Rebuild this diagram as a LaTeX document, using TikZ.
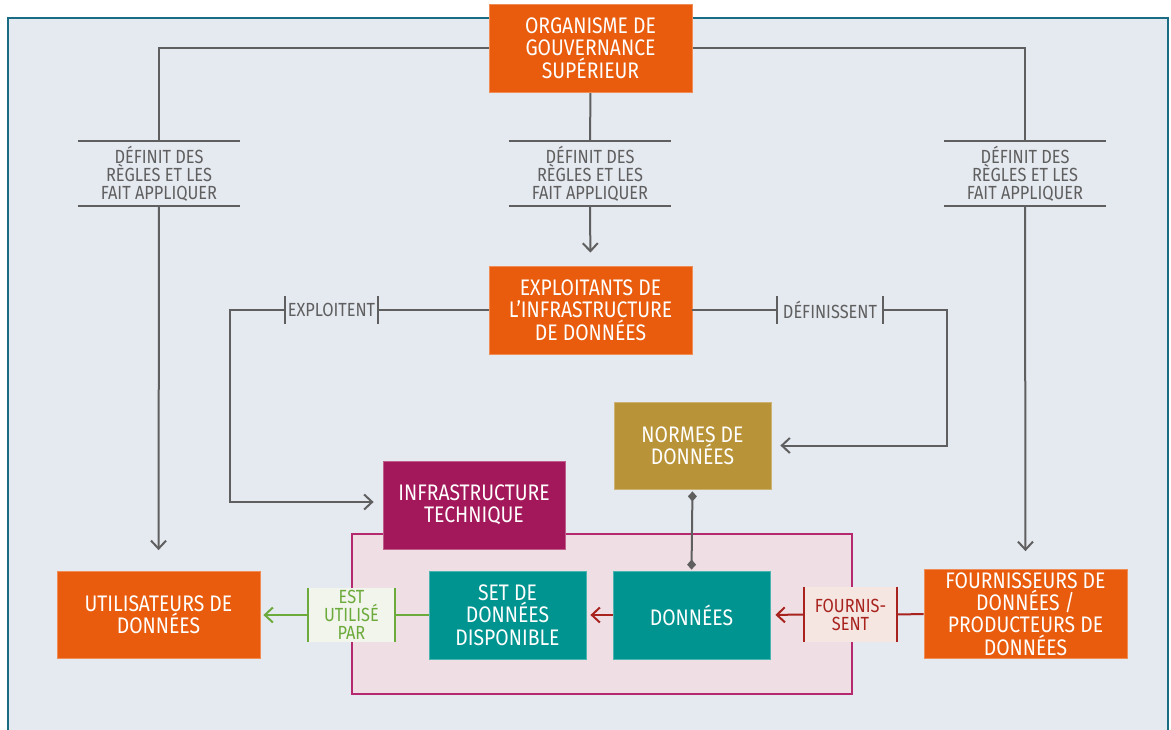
\documentclass[tikz,border=0pt]{standalone}
\usepackage{fontspec}
\setmainfont{Fira Sans}[FakeStretch=0.86]
\usetikzlibrary{arrows.meta}
\definecolor{bgc}{HTML}{E5E9F0}
\definecolor{framec}{HTML}{1A6B84}
\definecolor{orangec}{HTML}{E95C0D}
\definecolor{infrac}{HTML}{A3185A}
\definecolor{normc}{HTML}{B89337}
\definecolor{tealc}{HTML}{009490}
\definecolor{pinkf}{HTML}{EFDFE5}
\definecolor{pinkd}{HTML}{B5296F}
\definecolor{greyc}{HTML}{5F5F5F}
\definecolor{redc}{HTML}{A8221E}
\definecolor{redf}{HTML}{F5E6E1}
\definecolor{greenc}{HTML}{6DAA3C}
\definecolor{greenf}{HTML}{F1F5EC}
\newcommand{\boxfont}{\fontsize{22.5}{22.3}\selectfont}
\newcommand{\lblfont}{\fontsize{19}{18}\selectfont}
\begin{document}
\begin{tikzpicture}[x=1pt,y=-1pt,
  box/.style={fill=#1, draw=#1!70!white, line width=0.8pt, text=white, align=center, font=\boxfont, inner sep=0pt},
  lbl/.style={text=greyc, align=center, font=\lblfont, inner sep=0pt},
  conn/.style={draw=greyc, line width=2pt},
  arr/.style={-{Straight Barb[length=8pt,width=15pt]}},
  dia/.style={{Diamond[length=10pt,width=9pt]}-{Diamond[length=10pt,width=9pt]}}]
\useasboundingbox (0,0) rectangle (1171,729);
\fill[white] (0,0) rectangle (1171,729);
\filldraw[fill=bgc, draw=framec, line width=2pt] (8,18) rectangle (1168,745);
\filldraw[fill=pinkf, draw=pinkd, line width=1.6pt] (352,534) rectangle (852,694);

% main boxes
\node[box=orangec, minimum width=203pt, minimum height=88pt] (org) at (590.5,48) {ORGANISME DE\\GOUVERNANCE\\SUPÉRIEUR};
\node[box=orangec, minimum width=203pt, minimum height=88pt] (expl) at (590.5,310) {EXPLOITANTS DE\\L’INFRASTRUCTURE\\DE DONNÉES};
\node[box=normc, minimum width=157pt, minimum height=87pt] (norm) at (692.5,445.5) {NORMES DE\\DONNÉES};
\node[box=infrac, minimum width=182pt, minimum height=88pt] (infra) at (474,505) {INFRASTRUCTURE\\TECHNIQUE};
\node[box=orangec, minimum width=203pt, minimum height=87pt] (util) at (158.5,615) {UTILISATEURS DE\\DONNÉES};
\node[box=tealc, minimum width=157pt, minimum height=88pt] (set) at (507.5,615) {SET DE\\DONNÉES\\DISPONIBLE};
\node[box=tealc, minimum width=157pt, minimum height=88pt] (don) at (691.5,615) {DONNÉES};
\node[box=orangec, minimum width=203pt, minimum height=89pt] (four) at (1025.5,614) {FOURNISSEURS DE\\DONNÉES /\\PRODUCTEURS DE\\DONNÉES};

% labels
\node[lbl, minimum width=162pt, minimum height=65pt] (def1) at (159,173.5) {DÉFINIT DES\\RÈGLES ET LES\\FAIT APPLIQUER};
\node[lbl, minimum width=162pt, minimum height=65pt] (def2) at (590,173.5) {DÉFINIT DES\\RÈGLES ET LES\\FAIT APPLIQUER};
\node[lbl, minimum width=162pt, minimum height=65pt] (def3) at (1025,173.5) {DÉFINIT DES\\RÈGLES ET LES\\FAIT APPLIQUER};
\node[lbl, minimum width=93pt, minimum height=27pt] (exp) at (331.5,310) {EXPLOITENT};
\node[lbl, minimum width=106pt, minimum height=27pt] (dfn) at (830,310) {DÉFINISSENT};
\node[lbl, fill=redf, text=redc, minimum width=93pt, minimum height=55pt] (fsn) at (850.5,614.5) {FOURNIS-\\SENT};
\node[lbl, fill=greenf, text=greenc, minimum width=87pt, minimum height=54pt] (eup) at (351.5,615) {EST\\UTILISÉ\\PAR};

\coordinate (c1) at (230,310);
\coordinate (c2) at (947,310);

% label bars
\foreach \n in {def1,def2,def3}{
  \draw[conn] (\n.north west) -- (\n.north east);
  \draw[conn] (\n.south west) -- (\n.south east);
}
\foreach \n in {exp,dfn}{
  \draw[conn] (\n.north west) -- (\n.south west);
  \draw[conn] (\n.north east) -- (\n.south east);
}
\draw[draw=redc, line width=2pt] (fsn.north west) -- (fsn.south west) (fsn.north east) -- (fsn.south east);
\draw[draw=greenc, line width=2pt] (eup.north west) -- (eup.south west) (eup.north east) -- (eup.south east);

% connectors
\draw[conn] (org.west) -| (def1.north);
\draw[conn] (org.east) -| (def3.north);
\draw[conn] (org.south) -- (def2.north);
\draw[conn, arr, shorten >=13pt] (def2.south) -- (expl.north);
\draw[conn, arr, shorten >=21pt] (def1.south) -- (util.north);
\draw[conn, arr, shorten >=18pt] (def3.south) -- (four.north);
\draw[conn] (expl.west) -- (exp.east);
\draw[conn, arr, shorten >=9pt] (exp.west) -- (c1) |- ([yshift=3pt]infra.west);
\draw[conn] (expl.east) -- (dfn.west);
\draw[conn, arr, shorten >=9pt] (dfn.east) -- (c2) |- (norm.east);
\draw[draw=greyc, line width=2pt, fill=greyc, dia, shorten <=2pt, shorten >=1pt] (norm.south) -- (don.north);
\draw[draw=redc, line width=2pt, arr, shorten >=4pt] (don.west) -- (set.east);
\draw[draw=redc, line width=2pt] (four.west) -- (fsn.east);
\draw[draw=redc, line width=2pt, arr, shorten >=5pt] (fsn.west) -- (don.east);
\draw[draw=greenc, line width=2pt] (set.west) -- (eup.east);
\draw[draw=greenc, line width=2pt, arr, shorten >=3pt] (eup.west) -- (util.east);
% redraw organisme box over the top line
\node[box=orangec, minimum width=203pt, minimum height=88pt] at (590.5,48) {ORGANISME DE\\GOUVERNANCE\\SUPÉRIEUR};
\end{tikzpicture}
\end{document}
